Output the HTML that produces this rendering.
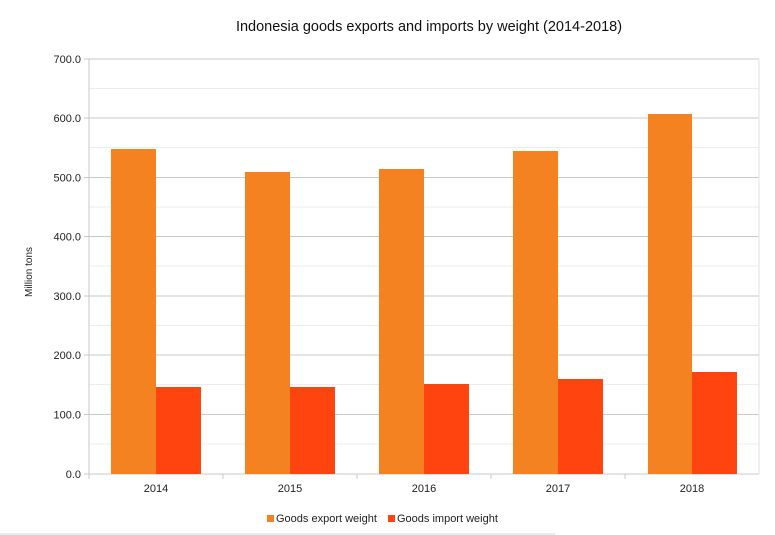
<!DOCTYPE html>
<html><head><meta charset="utf-8"><style>
html,body{margin:0;padding:0;background:#fff}
svg{display:block;font-family:"Liberation Sans",sans-serif}
</style></head><body>
<svg width="775" height="535" viewBox="0 0 775 535">
<rect width="775" height="535" fill="#fff"/>
<text x="429" y="31" font-size="14.5" text-anchor="middle" fill="#111">Indonesia goods exports and imports by weight (2014-2018)</text>
<g stroke="#ececec" stroke-width="1">
<line x1="89" x2="759" y1="88.5" y2="88.5"/>
<line x1="89" x2="759" y1="147.5" y2="147.5"/>
<line x1="89" x2="759" y1="207" y2="207"/>
<line x1="89" x2="759" y1="266" y2="266"/>
<line x1="89" x2="759" y1="325.5" y2="325.5"/>
<line x1="89" x2="759" y1="384.5" y2="384.5"/>
<line x1="89" x2="759" y1="444" y2="444"/>
</g>
<g stroke="#c8c8c8" stroke-width="1">
<line x1="84" x2="759" y1="59" y2="59"/>
<line x1="84" x2="759" y1="118" y2="118"/>
<line x1="84" x2="759" y1="177.5" y2="177.5"/>
<line x1="84" x2="759" y1="236.5" y2="236.5"/>
<line x1="84" x2="759" y1="296" y2="296"/>
<line x1="84" x2="759" y1="355" y2="355"/>
<line x1="84" x2="759" y1="414.5" y2="414.5"/>
<line x1="84" x2="759" y1="474" y2="474"/>
<line x1="89" x2="89" y1="59" y2="479"/>
<line x1="759" x2="759" y1="59" y2="474" stroke="#e0e0e0"/>
<line x1="223" x2="223" y1="474" y2="479"/>
<line x1="357" x2="357" y1="474" y2="479"/>
<line x1="491" x2="491" y1="474" y2="479"/>
<line x1="625" x2="625" y1="474" y2="479"/>
<line x1="0" x2="555" y1="534" y2="534" stroke="#d8d8d8"/>
</g>
<g fill="#f58220">
<rect x="111" y="149" width="45" height="325"/>
<rect x="245" y="172" width="45" height="302"/>
<rect x="379" y="169" width="45" height="305"/>
<rect x="513" y="151" width="45" height="323"/>
<rect x="648" y="114" width="44" height="360"/>
</g>
<g fill="#ff4410">
<rect x="156" y="387" width="45" height="87"/>
<rect x="290" y="387" width="45" height="87"/>
<rect x="424" y="384" width="45" height="90"/>
<rect x="558" y="379" width="45" height="95"/>
<rect x="692" y="372" width="45" height="102"/>
</g>
<g font-size="11" fill="#222" text-anchor="end">
<text x="81" y="63">700.0</text>
<text x="81" y="122">600.0</text>
<text x="81" y="181.5">500.0</text>
<text x="81" y="240.5">400.0</text>
<text x="81" y="300">300.0</text>
<text x="81" y="359">200.0</text>
<text x="81" y="418.5">100.0</text>
<text x="81" y="478">0.0</text>
</g>
<g font-size="11" fill="#222" text-anchor="middle">
<text x="156" y="492">2014</text>
<text x="290" y="492">2015</text>
<text x="424" y="492">2016</text>
<text x="558" y="492">2017</text>
<text x="692" y="492">2018</text>
</g>
<text transform="translate(32,272) rotate(-90)" font-size="10" fill="#222" text-anchor="middle">Million tons</text>
<rect x="267" y="515" width="7" height="7" fill="#f58220"/>
<text x="276" y="522" font-size="11" fill="#222">Goods export weight</text>
<rect x="388" y="515" width="7" height="7" fill="#ff4410"/>
<text x="397" y="522" font-size="11" fill="#222">Goods import weight</text>
</svg>
</body></html>
